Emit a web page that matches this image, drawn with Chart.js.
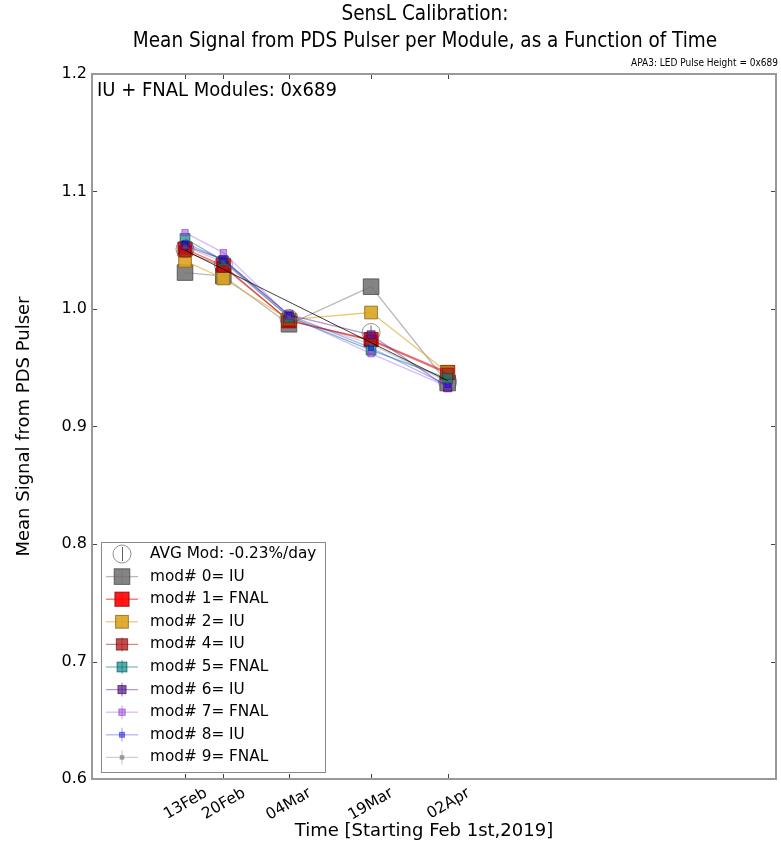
<!DOCTYPE html>
<html>
<head>
<meta charset="utf-8">
<script src="https://cdn.jsdelivr.net/npm/chart.js@4.4.1/dist/chart.umd.min.js"></script>
<style>
  html, body { margin: 0; padding: 0; background: #fff; }
</style>
</head>
<body>
<canvas id="pulserChart" width="781" height="843"></canvas>
<script>
// days counted from Feb 1st, 2019
var days = [12, 19, 31, 46, 60];
var tickLabels = ["13Feb", "20Feb", "04Mar", "19Mar", "02Apr"];
var yTicks = [0.6, 0.7, 0.8, 0.9, 1.0, 1.1, 1.2];

var avgLabel = "AVG Mod: -0.23%/day";
var avgMod = [1.051, 1.038, 0.992, 0.980, 0.938];
var avgErr = [0.004, 0.003, 0.002, 0.006, 0.002];

var modNames = ["mod# 0= IU", "mod# 1= FNAL", "mod# 2= IU", "mod# 4= IU", "mod# 5= FNAL",
                "mod# 6= IU", "mod# 7= FNAL", "mod# 8= IU", "mod# 9= FNAL"];
var mod0 = [1.031, 1.028, 0.987, 1.019, 0.937];
var mod1 = [1.051, 1.037, 0.990, 0.974, 0.946];
var mod2 = [1.041, 1.026, 0.991, 0.997, 0.946];
var mod4 = [1.049, 1.036, 0.990, 0.973, 0.945];
var mod5 = [1.060, 1.041, 0.993, 0.965, 0.941];
var mod6 = [1.054, 1.042, 0.995, 0.978, 0.933];
var mod7 = [1.065, 1.048, 0.994, 0.962, 0.934];
var mod8 = [1.056, 1.042, 0.995, 0.967, 0.935];
var mod9 = [1.053, 1.040, 0.993, 0.970, 0.938];
var modValues = [mod0, mod1, mod2, mod4, mod5, mod6, mod7, mod8, mod9];

// linear fit of the average, drawn between first and last day
var fitDays = [12, 60];
var fitLine = [1.050, 0.939];

// marker / line styles, one per module
var modStyles = [
  { fill: 'rgba(110,110,110,0.85)', edge: 'rgba(70,70,70,0.8)',  line: 'rgba(128,128,128,0.55)', r: 11 },
  { fill: 'rgba(255,0,0,0.9)',      edge: 'rgba(140,0,0,0.8)',   line: 'rgba(255,0,0,0.6)',     r: 10 },
  { fill: 'rgba(218,165,32,0.9)',   edge: 'rgba(140,100,20,0.8)',line: 'rgba(218,165,32,0.6)',  r: 9 },
  { fill: 'rgba(170,20,20,0.75)',   edge: 'rgba(110,10,10,0.7)', line: 'rgba(170,20,20,0.5)',   r: 8 },
  { fill: 'rgba(0,128,128,0.65)',   edge: 'rgba(0,80,80,0.7)',   line: 'rgba(0,128,128,0.5)',   r: 6.9 },
  { fill: 'rgba(85,26,139,0.7)',    edge: 'rgba(60,10,100,0.7)', line: 'rgba(85,26,139,0.45)',  r: 5.7 },
  { fill: 'rgba(150,60,225,0.5)',   edge: 'rgba(110,40,170,0.5)',line: 'rgba(150,60,225,0.35)', r: 4.5 },
  { fill: 'rgba(0,0,255,0.45)',     edge: 'rgba(0,0,160,0.45)',  line: 'rgba(0,0,255,0.3)',     r: 3.5 },
  { fill: 'rgba(100,100,100,0.45)', edge: 'rgba(80,80,80,0.4)',  line: 'rgba(100,100,100,0.3)', r: 2.6 }
];

function toPoints(xs, ys) {
  return ys.map(function (v, i) { return { x: xs[i], y: v }; });
}

var datasets = [{
  label: avgLabel,
  data: toPoints(days, avgMod),
  showLine: false,
  pointStyle: 'circle',
  pointRadius: 9,
  pointBackgroundColor: 'rgba(0,0,0,0)',
  pointBorderColor: 'rgba(120,120,120,0.8)',
  pointBorderWidth: 1,
  order: 20
}];
modValues.forEach(function (vals, i) {
  var s = modStyles[i];
  datasets.push({
    label: modNames[i],
    data: toPoints(days, vals),
    borderColor: s.line,
    borderWidth: 1.3,
    pointStyle: 'rect',
    pointRadius: s.r,
    pointBackgroundColor: s.fill,
    pointBorderColor: s.edge,
    pointBorderWidth: 1,
    order: 19 - i
  });
});
datasets.push({
  label: 'fit',
  data: toPoints(fitDays, fitLine),
  borderColor: 'rgba(0,0,0,0.75)',
  borderWidth: 1,
  pointRadius: 0,
  order: 0
});

var condensed = '"DejaVu Sans Condensed", "DejaVu Sans", sans-serif';
var sans = '"DejaVu Sans", sans-serif';

var mplDecor = {
  id: 'mplDecor',
  afterDatasetDraw: function (chart, args) {
    if (args.index !== 0) return;
    var ctx = chart.ctx, xs = chart.scales.x, ys = chart.scales.y;
    ctx.save();
    ctx.strokeStyle = 'rgba(60,60,60,0.8)';
    ctx.lineWidth = 1;
    avgMod.forEach(function (v, i) {
      var px = xs.getPixelForValue(days[i]);
      ctx.beginPath();
      ctx.moveTo(px, ys.getPixelForValue(v - avgErr[i]));
      ctx.lineTo(px, ys.getPixelForValue(v + avgErr[i]));
      ctx.stroke();
    });
    ctx.restore();
  },
  afterDatasetsDraw: function (chart) {
    var ctx = chart.ctx, a = chart.chartArea, xs = chart.scales.x, ys = chart.scales.y;
    ctx.save();
    ctx.strokeStyle = '#444';
    ctx.lineWidth = 1;
    ctx.beginPath();
    days.forEach(function (d) {
      var px = Math.round(xs.getPixelForValue(d)) + 0.5;
      ctx.moveTo(px, a.bottom); ctx.lineTo(px, a.bottom - 5);
      ctx.moveTo(px, a.top); ctx.lineTo(px, a.top + 5);
    });
    yTicks.forEach(function (t) {
      var py = Math.round(ys.getPixelForValue(t)) + 0.5;
      ctx.moveTo(a.left, py); ctx.lineTo(a.left + 5, py);
      ctx.moveTo(a.right, py); ctx.lineTo(a.right - 5, py);
    });
    ctx.stroke();
    ctx.strokeStyle = '#999';
    ctx.lineWidth = 2;
    ctx.strokeRect(a.left, a.top, a.right - a.left, a.bottom - a.top);
    ctx.restore();
  },
  afterDraw: function (chart) {
    var ctx = chart.ctx, a = chart.chartArea;
    ctx.save();
    ctx.fillStyle = '#000';
    ctx.textAlign = 'center';
    ctx.textBaseline = 'middle';
    ctx.font = '20.5px ' + condensed;
    ctx.fillText('SensL Calibration:', 425, 15);
    ctx.fillText('Mean Signal from PDS Pulser per Module, as a Function of Time', 425, 42);
    ctx.font = '18px ' + sans;
    ctx.fillText('Time [Starting Feb 1st,2019]', 424, 831);
    ctx.textAlign = 'right';
    ctx.font = '10px ' + condensed;
    ctx.fillText('APA3: LED Pulse Height = 0x689', 778, 63);
    ctx.textAlign = 'left';
    ctx.font = '20px ' + condensed;
    ctx.fillText('IU + FNAL Modules: 0x689', a.left + 5, 91);

    // legend box
    var lx = 101, ly = 542, lw = 224, lh = 230;
    ctx.fillStyle = 'rgba(255,255,255,0.9)';
    ctx.fillRect(lx, ly, lw, lh);
    ctx.strokeStyle = '#888';
    ctx.lineWidth = 1;
    ctx.strokeRect(lx + 0.5, ly + 0.5, lw, lh);
    var rowY = 554, step = 22.6, hx = 122;
    ctx.font = '15.3px ' + sans;
    ctx.textBaseline = 'middle';
    // avg entry
    ctx.strokeStyle = 'rgba(120,120,120,0.8)';
    ctx.beginPath(); ctx.arc(hx, rowY, 9, 0, Math.PI * 2); ctx.stroke();
    ctx.strokeStyle = 'rgba(60,60,60,0.8)';
    ctx.beginPath(); ctx.moveTo(hx + 0.5, rowY - 7); ctx.lineTo(hx + 0.5, rowY + 7); ctx.stroke();
    ctx.fillStyle = '#000';
    ctx.fillText(avgLabel, 150, rowY);
    modNames.forEach(function (name, i) {
      var s = modStyles[i], y = rowY + step * (i + 1);
      ctx.strokeStyle = s.line;
      ctx.lineWidth = 1.3;
      ctx.beginPath(); ctx.moveTo(106, y); ctx.lineTo(138, y); ctx.stroke();
      ctx.beginPath(); ctx.moveTo(hx, y - 7); ctx.lineTo(hx, y + 7); ctx.stroke();
      var side = s.r * Math.SQRT2;
      ctx.fillStyle = s.fill;
      ctx.fillRect(hx - side / 2, y - side / 2, side, side);
      ctx.strokeStyle = s.edge;
      ctx.lineWidth = 1;
      ctx.strokeRect(hx - side / 2, y - side / 2, side, side);
      ctx.fillStyle = '#000';
      ctx.fillText(name, 150, y);
    });
    ctx.restore();
  }
};

var ctxP = document.getElementById('pulserChart').getContext('2d');
var pulserChart = new Chart(ctxP, {
  type: 'line',
  data: { datasets: datasets },
  options: {
    responsive: false,
    animation: false,
    layout: { autoPadding: false, padding: { top: 74, right: 5, left: 0, bottom: 0 } },
    plugins: {
      legend: { display: false },
      tooltip: { enabled: false },
      title: { display: false }
    },
    scales: {
      x: {
        type: 'linear',
        min: -5,
        max: 120,
        afterBuildTicks: function (scale) {
          scale.ticks = days.map(function (d) { return { value: d }; });
        },
        afterFit: function (scale) {
          scale.height = 64;
          scale.paddingLeft = 0;
          scale.paddingRight = 0;
        },
        ticks: {
          autoSkip: false,
          maxRotation: 30,
          minRotation: 30,
          labelOffset: 21,
          padding: 5,
          color: '#000',
          font: { family: sans, size: 15.5 },
          callback: function (value) {
            var i = days.indexOf(value);
            return i >= 0 ? tickLabels[i] : '';
          }
        },
        grid: { display: false, drawTicks: false },
        border: { display: false }
      },
      y: {
        min: 0.6,
        max: 1.2,
        afterBuildTicks: function (scale) {
          scale.ticks = yTicks.map(function (t) { return { value: t }; });
        },
        afterFit: function (scale) { scale.width = 92; },
        ticks: {
          padding: 5,
          color: '#000',
          font: { family: sans, size: 16 },
          callback: function (value) { return value.toFixed(1); }
        },
        grid: { display: false, drawTicks: false },
        border: { display: false },
        title: {
          display: true,
          text: 'Mean Signal from PDS Pulser',
          color: '#000',
          font: { family: sans, size: 18 },
          padding: { top: 14, bottom: 0 }
        }
      }
    }
  },
  plugins: [mplDecor]
});
</script>
</body>
</html>
